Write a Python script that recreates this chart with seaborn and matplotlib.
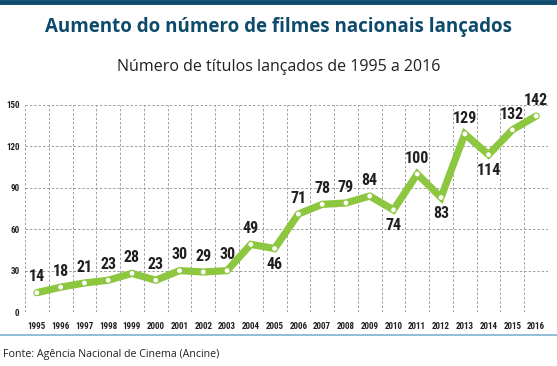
import matplotlib.pyplot as plt
from matplotlib import font_manager
import pandas as pd
import seaborn as sns
import numpy as np

# data
years = [str(y) for y in range(1995, 2017)]
titles = [14, 18, 21, 23, 28, 23, 30, 29, 30, 49, 46, 71, 78, 79, 84, 74, 100, 83, 129, 114, 132, 142]
# labels drawn under the point instead of above
below = ["2005", "2010", "2012", "2014"]
y_ticks = [0, 30, 60, 90, 120, 150]

df = pd.DataFrame({"ano": years, "filmes": titles})
df["pos"] = np.arange(len(df))

sns.set_theme(style="white")
plt.rcParams["font.family"] = ["Open Sans", "DejaVu Sans"]

# pick a narrow font for the numbers if one is there
names = set(f.name for f in font_manager.fontManager.ttflist)
narrow = "DejaVu Sans"
for cand in ["Liberation Sans Narrow", "Roboto Condensed", "Open Sans Condensed", "DejaVu Sans Condensed"]:
    if cand in names:
        narrow = cand
        break
num_size = 11.5 if narrow != "DejaVu Sans" else 9.5

green = "#8dc63f"
fig = plt.figure(figsize=(5.57, 3.66), dpi=100)
ax = fig.add_axes([25 / 557, (366 - 312) / 366, (548 - 25) / 557, (312 - 105) / 366])

sns.lineplot(data=df, x="pos", y="filmes", color=green, linewidth=5.2,
             solid_joinstyle="miter", ax=ax, zorder=3)
sns.scatterplot(data=df, x="pos", y="filmes", color="white", s=12,
                edgecolor="none", ax=ax, zorder=4)

# value labels
for _, row in df.iterrows():
    if row["ano"] in below:
        ax.text(row["pos"], row["filmes"] - 6, str(row["filmes"]), ha="center", va="top",
                fontsize=num_size, fontweight="bold", family=narrow, color="#231f20")
    else:
        ax.text(row["pos"], row["filmes"] + 6, str(row["filmes"]), ha="center", va="bottom",
                fontsize=num_size, fontweight="bold", family=narrow, color="#231f20")

ax.set_xlim(-0.5, len(years) - 0.5)
ax.set_ylim(0, 150)
ax.set_yticks(y_ticks)
ax.set_yticklabels([str(t) for t in y_ticks], fontsize=6.5, fontweight="bold",
                   family=narrow, color="#231f20")
ax.set_xticks(df["pos"])
ax.set_xticklabels(years, fontsize=6.5, fontweight="bold", family=narrow, color="#231f20")
ax.tick_params(axis="x", length=0, pad=7)
ax.tick_params(axis="y", length=0, pad=4)
ax.set_xlabel("")
ax.set_ylabel("")

# dashed grid, vertical lines between years
for t in y_ticks:
    ax.axhline(t, color="#9d9d9d", linestyle=(0, (2.5, 2)), linewidth=0.7, zorder=1)
for e in np.arange(-0.5, len(years)):
    ax.axvline(e, color="#9d9d9d", linestyle=(0, (2.5, 2)), linewidth=0.7, zorder=1)
for s in ax.spines.values():
    s.set_visible(False)

# header and footer
fig.add_artist(plt.Line2D([0, 1], [1 - 2 / 366, 1 - 2 / 366], color="#0d4a6b", linewidth=3.5))
fig.text(0.5, 1 - 27 / 366, "Aumento do número de filmes nacionais lançados", ha="center",
         va="center", fontsize=13.5, fontweight="bold", color="#0d4a6b")
fig.text(0.5, 1 - 67 / 366, "Número de títulos lançados de 1995 a 2016", ha="center",
         va="center", fontsize=11.5, color="#231f20")
fig.add_artist(plt.Line2D([0, 1], [1 - 335 / 366, 1 - 335 / 366], color="#7fb2d0", linewidth=1.2))
fig.text(3 / 557, 1 - 355 / 366, "Fonte: Agência Nacional de Cinema (Ancine)", ha="left",
         va="center", fontsize=7.7, color="#231f20")

plt.savefig("out.png", dpi=100)
